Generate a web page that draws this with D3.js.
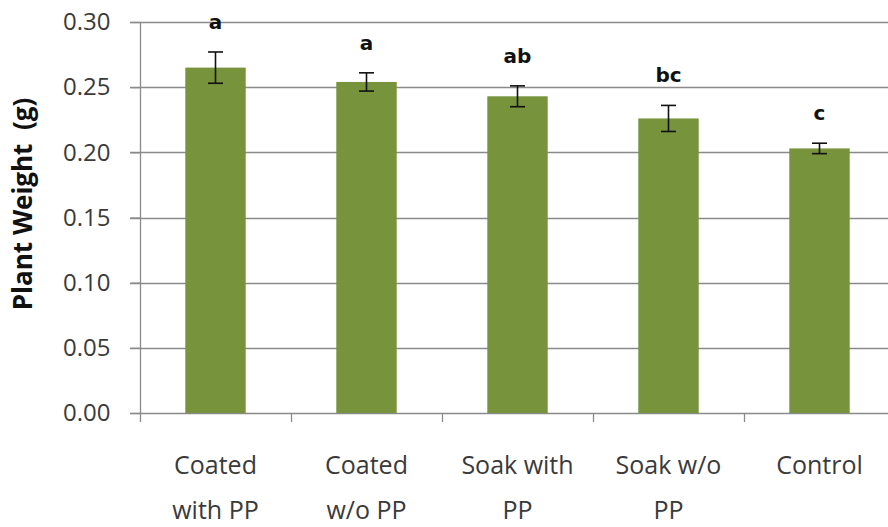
<!DOCTYPE html>
<html>
<head>
<meta charset="utf-8">
<script src="https://cdn.jsdelivr.net/npm/d3@7"></script>
<style>
  html, body { margin: 0; padding: 0; background: #ffffff; }
  svg { display: block; }
</style>
</head>
<body>
<svg id="chart" width="888" height="527"></svg>
<script>
// Treatment groups (two-line labels) and their mean plant weight (g)
const categories = ["Coated with PP", "Coated w/o PP", "Soak with PP", "Soak w/o PP", "Control"];
const labelLines = [["Coated", "with PP"], ["Coated", "w/o PP"], ["Soak with", "PP"], ["Soak w/o", "PP"], ["Control"]];
const means = [0.265, 0.254, 0.243, 0.226, 0.203];
const errors = [0.012, 0.007, 0.008, 0.010, 0.004];
const groups = ["a", "a", "ab", "bc", "c"];
const yTicks = [0.00, 0.05, 0.10, 0.15, 0.20, 0.25, 0.30];

const svg = d3.select("#chart");
const plotLeft = 140, plotRight = 895, plotTop = 22, plotBottom = 413;

const x = d3.scaleBand()
  .domain(categories)
  .range([plotLeft, plotRight])
  .paddingInner(0.6)
  .paddingOuter(0.3);

const y = d3.scaleLinear().domain([0, 0.30]).range([plotBottom, plotTop]);

const gridColor = "#8a8a8a";
const textColor = "#3a3a3a";

// horizontal gridlines
svg.append("g")
  .selectAll("line")
  .data(yTicks)
  .join("line")
  .attr("x1", plotLeft - 10)
  .attr("x2", 888)
  .attr("y1", d => Math.round(y(d)) + 0.5)
  .attr("y2", d => Math.round(y(d)) + 0.5)
  .attr("stroke", gridColor)
  .attr("stroke-width", 1.3);

// y axis
const yAxis = svg.append("g")
  .attr("transform", `translate(${plotLeft + 0.5},0)`)
  .call(d3.axisLeft(y).tickValues(yTicks).tickFormat(d3.format(".2f")).tickSize(10).tickPadding(20));
yAxis.select(".domain").attr("d", `M0,${plotTop}V${plotBottom + 9}`).attr("stroke", gridColor).attr("stroke-width", 1.3);
yAxis.selectAll(".tick line").attr("stroke", gridColor).attr("stroke-width", 1.3);
yAxis.selectAll(".tick text")
  .attr("fill", textColor)
  .style("font-family", "'Open Sans', sans-serif")
  .style("font-size", "24px");

// category boundary ticks on the baseline
const boundaries = categories.slice(1).map(c => x(c) - x.step() * x.paddingInner() / 2);
svg.append("g")
  .selectAll("line")
  .data(boundaries)
  .join("line")
  .attr("x1", d => Math.round(d) + 0.5)
  .attr("x2", d => Math.round(d) + 0.5)
  .attr("y1", plotBottom)
  .attr("y2", plotBottom + 9)
  .attr("stroke", gridColor)
  .attr("stroke-width", 1.3);

// bars
svg.append("g")
  .selectAll("rect")
  .data(categories)
  .join("rect")
  .attr("x", d => x(d))
  .attr("width", x.bandwidth())
  .attr("y", (d, i) => y(means[i]))
  .attr("height", (d, i) => y(0) - y(means[i]))
  .attr("fill", "#77933c");

// error bars
const eb = svg.append("g").attr("stroke", "#111").attr("stroke-width", 1.6);
categories.forEach((c, i) => {
  const cx = x(c) + x.bandwidth() / 2;
  const y1 = y(means[i] + errors[i]);
  const y2 = y(means[i] - errors[i]);
  eb.append("line").attr("x1", cx).attr("x2", cx).attr("y1", y1).attr("y2", y2);
  eb.append("line").attr("x1", cx - 7.5).attr("x2", cx + 7.5).attr("y1", y1).attr("y2", y1);
  eb.append("line").attr("x1", cx - 7.5).attr("x2", cx + 7.5).attr("y1", y2).attr("y2", y2);
});

// significance letters
svg.append("g")
  .selectAll("text")
  .data(categories)
  .join("text")
  .attr("x", d => x(d) + x.bandwidth() / 2)
  .attr("y", (d, i) => y(means[i] + errors[i]) - 23)
  .attr("text-anchor", "middle")
  .attr("fill", "#111")
  .style("font-family", "'DejaVu Sans', sans-serif")
  .style("font-weight", "bold")
  .style("font-size", "20px")
  .text((d, i) => groups[i]);

// category labels
const xl = svg.append("g")
  .selectAll("text")
  .data(categories)
  .join("text")
  .attr("x", d => x(d) + x.bandwidth() / 2)
  .attr("y", 474)
  .attr("text-anchor", "middle")
  .attr("fill", textColor)
  .style("font-family", "'Open Sans', sans-serif")
  .style("font-size", "25px");
xl.each(function (d, i) {
  const t = d3.select(this);
  labelLines[i].forEach((line, k) => {
    t.append("tspan")
      .attr("x", x(d) + x.bandwidth() / 2)
      .attr("dy", k === 0 ? 0 : 45)
      .text(line);
  });
});

// y axis title
svg.append("text")
  .attr("transform", "translate(32,204) rotate(-90)")
  .attr("text-anchor", "middle")
  .attr("fill", "#111")
  .style("font-family", "'Open Sans', sans-serif")
  .style("font-weight", "bold")
  .style("font-size", "26px")
  .style("white-space", "pre")
  .text("Plant Weight  (g)");
</script>
</body>
</html>
